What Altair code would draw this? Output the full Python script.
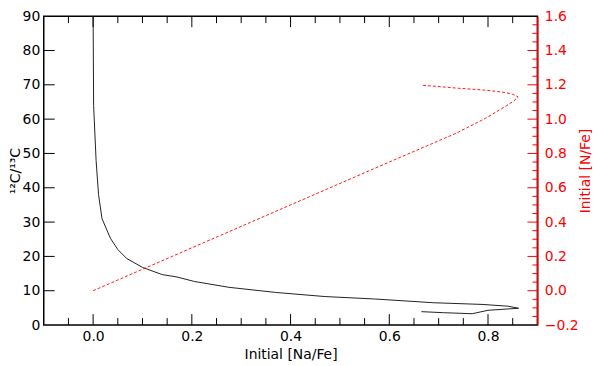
import altair as alt
import pandas as pd

# Black curve: 12C/13C vs initial [Na/Fe]
na_black = [0.000, 0.001, 0.006, 0.011, 0.018, 0.035, 0.050, 0.068, 0.100, 0.140,
            0.170, 0.205, 0.275, 0.370, 0.470, 0.570, 0.690, 0.790, 0.840, 0.862,
            0.800, 0.768, 0.710, 0.665]
c_ratio = [90.0, 64.0, 48.0, 38.0, 31.0, 25.3, 22.0, 19.4, 16.8, 14.7,
           14.0, 12.7, 11.0, 9.5, 8.3, 7.6, 6.5, 6.0, 5.5, 4.9,
           4.3, 3.3, 3.6, 3.9]

# Red dashed curve: initial [N/Fe] vs initial [Na/Fe]
na_red = [0.000, 0.200, 0.400, 0.600, 0.735, 0.795, 0.830, 0.852, 0.861, 0.850,
          0.835, 0.795, 0.740, 0.695, 0.668]
n_fe = [0.000, 0.250, 0.500, 0.750, 0.917, 1.005, 1.065, 1.105, 1.130, 1.145,
        1.155, 1.169, 1.180, 1.191, 1.197]

# Tick values
x_major = [0.0, 0.2, 0.4, 0.6, 0.8]
x_minor = [-0.05, 0.05, 0.1, 0.15, 0.25, 0.3, 0.35, 0.45, 0.5, 0.55, 0.65, 0.7, 0.75, 0.85]
yl_labels = [0, 10, 20, 30, 40, 50, 60, 70, 80, 90]
yl_major = [10, 20, 30, 40, 50, 60, 70, 80]
yr_labels = [-0.2, 0.0, 0.2, 0.4, 0.6, 0.8, 1.0, 1.2, 1.4, 1.6]
yr_major = [0.0, 0.2, 0.4, 0.6, 0.8, 1.0, 1.2, 1.4]
yr_minor = [-0.15, -0.1, -0.05, 0.05, 0.1, 0.15, 0.25, 0.3, 0.35, 0.45, 0.5, 0.55,
            0.65, 0.7, 0.75, 0.85, 0.9, 0.95, 1.05, 1.1, 1.15, 1.25, 1.3, 1.35,
            1.45, 1.5, 1.55]

W, H = 497, 311
FONT = "DejaVu Sans"
RED = "#ff0000"

black_df = pd.DataFrame({"na": na_black, "c": c_ratio, "i": range(len(na_black))})
red_df = pd.DataFrame({"na": na_red, "n": n_fe, "i": range(len(na_red))})

xscale = alt.Scale(domain=[-0.1, 0.9], nice=False, zero=False)
yl_scale = alt.Scale(domain=[0, 90], nice=False, zero=False)
yr_scale = alt.Scale(domain=[-0.2, 1.6], nice=False, zero=False)

x_axis = alt.Axis(title="Initial [Na/Fe]", values=x_major, format=".1f",
                  ticks=False, domain=False, grid=False, labelPadding=5,
                  titlePadding=4, labelOverlap=False)
yl_axis = alt.Axis(title="¹²C/¹³C", values=yl_labels,
                   ticks=False, domain=False, grid=False, labelPadding=4,
                   titlePadding=0, labelOverlap=False)
yr_axis = alt.Axis(title="Initial [N/Fe]", orient="right", format=".1f",
                   values=yr_labels, labelOverlap=False,
                   ticks=False, domain=True, domainColor=RED, domainWidth=1.5,
                   grid=False, labelColor=RED, titleColor=RED, labelPadding=7,
                   titlePadding=0, titleAngle=270, titleBaseline="top")

X = alt.X("na:Q", scale=xscale, axis=x_axis, title="Initial [Na/Fe]")

black_line = alt.Chart(black_df).mark_line(color="#222222", strokeWidth=1, clip=True).encode(
    x=X,
    y=alt.Y("c:Q", scale=yl_scale, axis=yl_axis, title="¹²C/¹³C"),
    order="i:Q",
)

def xticks(vals, length):
    df = pd.DataFrame({"na": vals})
    bottom = alt.Chart(df).mark_rule(color="black", strokeWidth=1).encode(
        x=X, y=alt.value(H), y2=alt.value(H - length))
    top = alt.Chart(df).mark_rule(color="black", strokeWidth=1).encode(
        x=X, y=alt.value(0), y2=alt.value(length))
    return [bottom, top]

left_ticks = alt.Chart(pd.DataFrame({"c": yl_major})).mark_rule(color="black", strokeWidth=1).encode(
    y=alt.Y("c:Q", scale=yl_scale, axis=yl_axis, title="¹²C/¹³C"),
    x=alt.value(0), x2=alt.value(11))

left_layer = alt.layer(black_line, left_ticks, *xticks(x_major, 11), *xticks(x_minor, 7))

YR = alt.Y("n:Q", scale=yr_scale, axis=yr_axis, title="Initial [N/Fe]")

red_line = alt.Chart(red_df).mark_line(color=RED, strokeWidth=0.9, strokeDash=[3, 2], clip=True).encode(
    x=X, y=YR, order="i:Q",
)

right_major = alt.Chart(pd.DataFrame({"n": yr_major})).mark_rule(color=RED, strokeWidth=1).encode(
    y=YR, x=alt.value(W), x2=alt.value(W - 10))
right_minor = alt.Chart(pd.DataFrame({"n": yr_minor})).mark_rule(color=RED, strokeWidth=1).encode(
    y=YR, x=alt.value(W), x2=alt.value(W - 5))

right_layer = alt.layer(red_line, right_major, right_minor)

chart = alt.layer(left_layer, right_layer).resolve_scale(y="independent").properties(
    width=W, height=H,
    background="white",
    autosize=alt.AutoSizeParams(type="none"),
    padding={"left": 36, "top": 7, "right": 55, "bottom": 40},
).configure_view(stroke="black", strokeWidth=1.5).configure_axis(
    labelFont=FONT, titleFont=FONT, labelFontSize=14, titleFontSize=14,
    titleFontWeight="normal", labelColor="black", titleColor="black",
)

chart.save("out.html", embed_options={"renderer": "svg", "actions": False})
